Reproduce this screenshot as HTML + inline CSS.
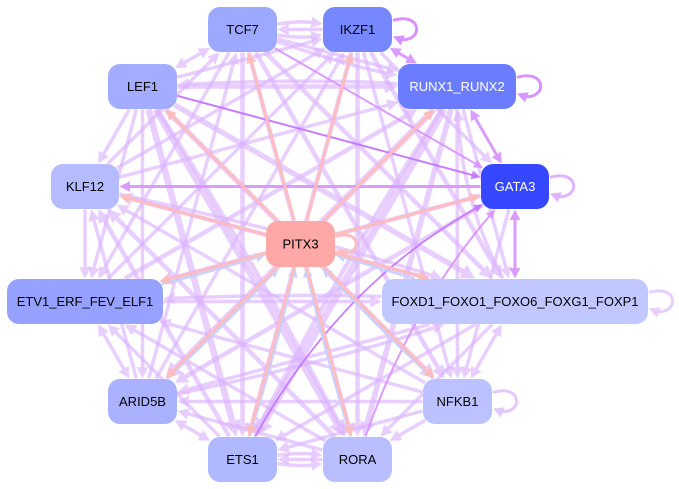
<!DOCTYPE html>
<html><head><meta charset="utf-8">
<style>
html,body{margin:0;padding:0;background:#fff;}
svg{display:block;}
text{font-family:"Liberation Sans",Arial,sans-serif;font-size:13px;text-anchor:middle;}
</style></head><body>
<svg id="s" width="679" height="489" viewBox="0 0 679 489" xmlns="http://www.w3.org/2000/svg">
<rect x="0" y="0" width="679" height="489" fill="#ffffff"/>
<g id="edges"></g>
<g id="nodes">
<rect x="208" y="7" width="69" height="45" rx="12" fill="#9da8ff"/><text x="242.5" y="34" fill="#000">TCF7</text>
<rect x="323" y="7" width="69" height="45" rx="12" fill="#7788ff"/><text x="357.5" y="34" fill="#000">IKZF1</text>
<rect x="108" y="64" width="69" height="45" rx="12" fill="#a3acff"/><text x="142.5" y="91" fill="#000">LEF1</text>
<rect x="398" y="64" width="118" height="45" rx="12" fill="#6b7cff"/><text x="457" y="91" fill="#fff">RUNX1_RUNX2</text>
<rect x="51" y="164" width="68" height="45" rx="12" fill="#b5bcff"/><text x="85" y="191" fill="#000">KLF12</text>
<rect x="481" y="164" width="68" height="45" rx="12" fill="#3547ff"/><text x="515" y="191" fill="#fff">GATA3</text>
<rect x="266" y="221" width="69" height="46" rx="12" fill="#ffa8a8"/><text x="300.5" y="248.5" fill="#000">PITX3</text>
<rect x="7" y="279" width="156" height="45" rx="12" fill="#97a1ff"/><text x="85" y="306" fill="#000">ETV1_ERF_FEV_ELF1</text>
<rect x="382" y="279" width="266" height="45" rx="12" fill="#c1c7ff"/><text x="515" y="306" fill="#000">FOXD1_FOXO1_FOXO6_FOXG1_FOXP1</text>
<rect x="108" y="379" width="69" height="45" rx="12" fill="#aab2ff"/><text x="142.5" y="406" fill="#000">ARID5B</text>
<rect x="423" y="379" width="69" height="45" rx="12" fill="#bcc2ff"/><text x="457.5" y="406" fill="#000">NFKB1</text>
<rect x="208" y="437" width="69" height="45" rx="12" fill="#b0b8ff"/><text x="242.5" y="464" fill="#000">ETS1</text>
<rect x="323" y="437" width="69" height="45" rx="12" fill="#b8beff"/><text x="357.5" y="464" fill="#000">RORA</text>
</g>
</svg>
<script>
(function(){
var NS='http://www.w3.org/2000/svg';
var nd={T:[242.5,29.5,69,45],I:[357.5,29.5,69,45],L:[142.5,86.5,69,45],R:[457,86.5,118,45],K:[85,186.5,68,45],G:[515,186.5,68,45],P:[300.5,244,69,46],E:[85,301.5,156,45],F:[515,301.5,266,45],A:[142.5,401.5,69,45],N:[457.5,401.5,69,45],S:[242.5,459.5,69,45],O:[357.5,459.5,69,45]};
var C={l:['#dbb4ff',0.64],m:['#d994ff',0.92],d:['#c271ff',0.9],s:['#ffbdbd',0.95],b:['#c8d0ff',0.95]};
var eg=document.getElementById('edges');
function add(tag,at,p){var e=document.createElementNS(NS,tag);for(var k in at)e.setAttribute(k,at[k]);p.appendChild(e);return e;}
function bnd(n,dx,dy){
 var c=nd[n],cx=c[0],cy=c[1],hw=c[2]/2+0.5,hh=c[3]/2+0.5,r=12;
 var L=Math.hypot(dx,dy);dx/=L;dy/=L;
 var t=Math.min(Math.abs(dx)>1e-9?hw/Math.abs(dx):1e9,Math.abs(dy)>1e-9?hh/Math.abs(dy):1e9);
 var px=dx*t,py=dy*t;
 if(Math.abs(px)>hw-r&&Math.abs(py)>hh-r){
  var ox=(px>0?1:-1)*(hw-r),oy=(py>0?1:-1)*(hh-r);
  var b=dx*ox+dy*oy,cc=ox*ox+oy*oy-r*r,disc=b*b-cc;
  if(disc>=0){t=b+Math.sqrt(disc);px=dx*t;py=dy*t;}
 }
 return [cx+px,cy+py];
}
function head(g,tip,ux,uy,w,col){var L=6+w*1.5,H=2.5+w*0.95;var bx=tip[0]-ux*L,by=tip[1]-uy*L;
 add('polygon',{points:tip[0]+','+tip[1]+' '+(bx-uy*H)+','+(by+ux*H)+' '+(bx+uy*H)+','+(by-ux*H),fill:col},g);return L;}
function E(a,b,w,ck,c,bi){c=c||0;var col=C[ck][0],op=C[ck][1];var A=nd[a],B=nd[b];
 var mx=(A[0]+B[0])/2,my=(A[1]+B[1])/2,dx=B[0]-A[0],dy=B[1]-A[1],len=Math.hypot(dx,dy);
 var qx=mx-dy/len*c,qy=my+dx/len*c;
 var p0=bnd(a,qx-A[0],qy-A[1]),p1=bnd(b,qx-B[0],qy-B[1]);
 var g=add('g',{opacity:op},eg);
 var ux=p1[0]-qx,uy=p1[1]-qy,l1=Math.hypot(ux,uy);ux/=l1;uy/=l1;
 var La=head(g,p1,ux,uy,w,col);
 var e1=[p1[0]-ux*La*0.8,p1[1]-uy*La*0.8],s0=p0;
 if(bi){var vx=p0[0]-qx,vy=p0[1]-qy,l0=Math.hypot(vx,vy);vx/=l0;vy/=l0;var Lb=head(g,p0,vx,vy,w,col);s0=[p0[0]-vx*Lb*0.8,p0[1]-vy*Lb*0.8];}
 add('path',{d:'M'+s0[0]+','+s0[1]+' Q'+qx+','+qy+' '+e1[0]+','+e1[1],fill:'none',stroke:col,'stroke-width':w},g);
}
function loop(n,col,op,w,sz){var c=nd[n],cx=c[0],cy=c[1],x=cx+c[2]/2;sz=sz||1;var g=add('g',{opacity:op},eg);
 var L=6+w*1.5;var ux=-0.93,uy=-0.37;var tip=[x+1,cy+7*sz];var ex=tip[0]-ux*L*0.8,ey=tip[1]-uy*L*0.8;
 add('path',{d:'M'+(x+1)+','+(cy-9*sz)+' C'+(x+30*sz)+','+(cy-18*sz)+' '+(x+32*sz)+','+(cy+12*sz)+' '+ex+','+ey,fill:'none',stroke:col,'stroke-width':w},g);
 head(g,tip,ux,uy,w,col);}
var L=[
['T','I',3,-9],['I','T',3,0],['T','I',3,9],['L','T',3,0,1],['F','N',3,0,1],['N','O',3,0],
['S','O',3,-7],['O','S',3,0],['S','O',3,7],['A','S',3,0,1],['E','A',3,0,1],['K','E',3,0],['L','K',3,0],
['T','R',3,0],['T','R',3,8],['I','G',3,0],['F','R',3,-25],['G','N',3,0],['F','O',3,0],['N','S',3,0],['O','A',3,0],['S','E',3,0],['A','K',3,0],['L','E',3,0],['K','T',3,0],['L','I',3,0],
['I','F',4,0],['R','F',3,0],['R','N',3,0],['F','S',3,0],['N','A',3,0],['O','E',3,0],['S','K',4,0],['L','A',3,0],['T','E',3,0],['K','I',3,0],['L','R',4,0],['R','L',3,8],
['T','F',4,0],['I','N',3,0],['R','O',5,0],['F','A',3,0],['N','E',3,0],['O','K',4,0],['L','S',6,0],['A','T',3,0],['E','I',3,0],['K','R',3,0],
['T','N',4,0],['I','O',4,0],['R','S',7,0],['G','A',4,0],['E','F',3,0],['F','E',3,8],['N','K',3,0],['L','O',6,0],['T','S',4,0],['A','I',3,0],['E','R',4,0],['L','F',5,0],
['T','O',4,0],['I','S',4,0],['R','A',6,0],['G','E',4,0],['F','K',4,0],['L','N',5,0],['K','F',3,-10],['A','F',3,10],['R','S',4,12],['L','O',4,-10]
];
L.forEach(function(e){E(e[0],e[1],e[2]+0.5,'l',e[3],e[4]);});
loop('F','#e6c8ff',0.9,3);loop('N','#e2c2ff',0.9,3);loop('G','#dfb2ff',0.95,3);
E('I','R',3,'m',0,1);E('R','G',3,'m',0,1);E('G','F',3,'m',0,1);E('G','K',3,'m',0);E('T','G',2,'m',0);
E('L','G',2,'d',0);E('S','G',1.8,'d',-55);E('O','G',2,'m',-30);
loop('I','#d68cff',0.95,3);loop('R','#d690ff',0.95,3);
[['A',4],['S',4],['O',-4],['N',-4],['F',-4],['E',4]].forEach(function(e){E(e[0],'P',2.5,'b',e[1]);});
['T','I','L','K','R','G','F','N','O','S','A','E'].forEach(function(t){E('P',t,3,'s',0);});
loop('P','#ffbcbc',0.95,3,0.85);
})();
</script>
</body></html>
